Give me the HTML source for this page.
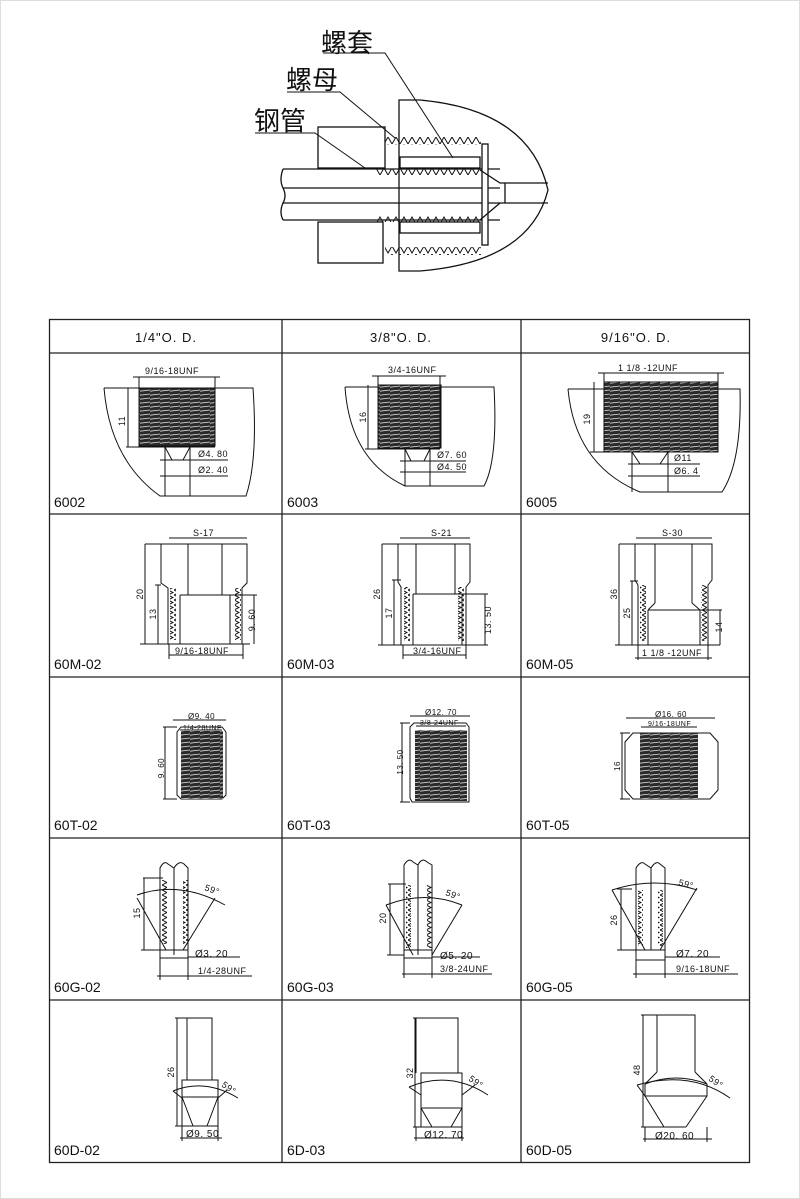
<!DOCTYPE html>
<html><head><meta charset="utf-8"><style>
html,body{margin:0;padding:0;background:#fff}
svg{display:block}
text{font-family:"Liberation Sans","Noto Sans CJK SC",sans-serif;fill:#111}
.d{font-size:9px;letter-spacing:0.5px}
.l{font-size:14px}
.h{font-size:13px;letter-spacing:1px}
</style></head><body>
<svg width="800" height="1199" viewBox="0 0 800 1199" xmlns="http://www.w3.org/2000/svg">
<defs>
<pattern id="thr" width="10" height="4" patternUnits="userSpaceOnUse">
<rect width="10" height="4" fill="#2a2a2a"/><path d="M0,3.2 L10,2" stroke="#ddd" stroke-width="0.8"/>
</pattern>
<pattern id="zzh" width="8" height="8" patternUnits="userSpaceOnUse">
<path d="M0,8 L4,1 L8,8" fill="none" stroke="#111" stroke-width="1"/>
</pattern>
<pattern id="zzv" width="6" height="5" patternUnits="userSpaceOnUse">
<path d="M0,0 L5,2.5 L0,5" fill="none" stroke="#111" stroke-width="1"/>
</pattern>
</defs>
<rect x="0.5" y="0.5" width="799" height="1198" fill="none" stroke="#ddd"/>

<!-- TOP DIAGRAM -->
<g stroke="#111" stroke-width="1.3" fill="none">
<path d="M399,271 L399,100 L420,100 Q530,110 548,190 Q530,262 420,271 Z" fill="#fff"/>
<line x1="505" y1="183" x2="548" y2="183"/><line x1="505" y1="203" x2="548" y2="203"/>
<rect x="318" y="127" width="67" height="41" fill="#fff"/>
<rect x="318" y="222" width="65" height="41" fill="#fff"/>
<path d="M283,169 L500,169 M283,220 L500,220 M283,188 L500,188 M283,203 L500,203"/>
<path d="M283,169 Q279,180 283,188 Q287,196 283,203 Q279,212 283,220"/>
<rect x="400" y="157" width="80" height="11" fill="#fff"/>
<rect x="400" y="222" width="80" height="11" fill="#fff"/>
<rect x="482" y="144" width="6" height="101" fill="#fff"/>
<path d="M480,170 L500,183 L505,183 L505,203 L500,203 L480,220"/>
</g>
<rect x="385" y="137" width="96" height="8" fill="url(#zzh)"/>
<rect x="385" y="247" width="96" height="8" fill="url(#zzh)" transform="translate(0,502) scale(1,-1)"/>
<rect x="376" y="169" width="104" height="6" fill="url(#zzh)" transform="translate(0,344) scale(1,-1)"/>
<rect x="376" y="216" width="104" height="6" fill="url(#zzh)"/>
<g stroke="#111" stroke-width="1" fill="none">
<path d="M323,53 L385,53 L453,158"/>
<path d="M287,92 L340,92 L395,138"/>
<path d="M255,133 L315,133 L365,168"/>
</g>
<text x="321" y="52" style="font-size:26px">螺套</text>
<text x="286" y="89" style="font-size:26px">螺母</text>
<text x="254" y="130" style="font-size:26px">钢管</text>

<!-- TABLE -->
<g stroke="#222" stroke-width="1.3" fill="none">
<rect x="49.5" y="319.5" width="700" height="843"/>
<line x1="49" y1="353" x2="750" y2="353"/>
<line x1="49" y1="514" x2="750" y2="514"/>
<line x1="49" y1="677" x2="750" y2="677"/>
<line x1="49" y1="838" x2="750" y2="838"/>
<line x1="49" y1="1000" x2="750" y2="1000"/>
<line x1="282" y1="319" x2="282" y2="1163"/>
<line x1="521" y1="319" x2="521" y2="1163"/>
</g>
<text class="h" x="166" y="342" text-anchor="middle">1/4"O. D.</text>
<text class="h" x="401" y="342" text-anchor="middle">3/8"O. D.</text>
<text class="h" x="636" y="342" text-anchor="middle">9/16"O. D.</text>

<!-- Row labels -->
<g class="l">
<text class="l" x="54" y="507">6002</text><text class="l" x="287" y="507">6003</text><text class="l" x="526" y="507">6005</text>
<text class="l" x="54" y="669">60M-02</text><text class="l" x="287" y="669">60M-03</text><text class="l" x="526" y="669">60M-05</text>
<text class="l" x="54" y="830">60T-02</text><text class="l" x="287" y="830">60T-03</text><text class="l" x="526" y="830">60T-05</text>
<text class="l" x="54" y="992">60G-02</text><text class="l" x="287" y="992">60G-03</text><text class="l" x="526" y="992">60G-05</text>
<text class="l" x="54" y="1155">60D-02</text><text class="l" x="287" y="1155">6D-03</text><text class="l" x="526" y="1155">60D-05</text>
</g>

<!-- ROW 1 -->
<g stroke="#111" stroke-width="1" fill="none">
<path d="M104,388 L253,388 Q258,460 246,496 L160,496 Q110,460 104,388"/>
<rect x="139" y="388" width="76" height="58" fill="url(#thr)"/>
<path d="M133,377 L220,377 M139,377 L139,446 M215,377 L215,446 M128,388 L128,447 M126,447 L215,447"/>
<path d="M165,447 L165,496 M190,447 L190,496 M165,447 L172,460 L183,460 L190,447 M160,460 L228,460 M160,476 L228,476"/>

<path d="M345,387 L494,387 Q498,460 484,486 L405,486 Q350,460 345,387"/>
<rect x="378" y="385" width="63" height="63" fill="url(#thr)"/>
<path d="M372,376 L446,376 M378,376 L378,448 M440,376 L440,448 M368,385 L368,449 M365,449 L440,449"/>
<path d="M405,449 L405,486 M430,449 L430,486 M405,449 L411,461 L424,461 L430,449 M400,461 L466,461 M400,472 L466,472"/>

<path d="M568,389 L740,389 Q742,462 722,492 L640,492 Q575,465 568,389"/>
<rect x="604" y="382" width="114" height="70" fill="url(#thr)"/>
<path d="M598,373 L724,373 M604,373 L604,452 M718,373 L718,452 M594,382 L594,452 M590,452 L718,452"/>
<path d="M632,452 L632,492 M668,452 L668,492 M632,452 L640,464 L660,464 L668,452 M628,464 L700,464 M628,476 L700,476"/>
</g>
<text class="d" x="145" y="374">9/16-18UNF</text>
<text class="d" x="125" y="421" transform="rotate(-90 125 421)" text-anchor="middle">11</text>
<text class="d" x="198" y="457">Ø4. 80</text><text class="d" x="198" y="473">Ø2. 40</text>
<text class="d" x="388" y="373">3/4-16UNF</text>
<text class="d" x="366" y="417" transform="rotate(-90 366 417)" text-anchor="middle">16</text>
<text class="d" x="437" y="458">Ø7. 60</text><text class="d" x="437" y="470">Ø4. 50</text>
<text class="d" x="618" y="371">1 1/8 -12UNF</text>
<text class="d" x="590" y="419" transform="rotate(-90 590 419)" text-anchor="middle">19</text>
<text class="d" x="674" y="461">Ø11</text><text class="d" x="674" y="474">Ø6. 4</text>

<!-- ROW 2 -->
<g stroke="#111" stroke-width="1" fill="none">
<!-- 60M-02 -->
<path d="M161,544 L247,544 L247,583 L242,588 L242,644 L168,644 L168,588 L161,583 Z"/>
<path d="M188,544 L188,595 M222,544 L222,595 M180,595 L230,595 L230,644 M180,595 L180,644"/>
<path d="M145,544 L161,544 M145,544 L145,644 M140,644 L250,644 M155,585 L161,585 M158,585 L158,644 M230,595 L257,595 M254,595 L254,644 M169,538 L247,538 M169,644 L169,659 M243,644 L243,659 M169,655 L243,655"/>
<!-- 60M-03 -->
<path d="M398,544 L470,544 L470,582 L466,587 L466,645 L401,645 L401,587 L398,582 Z"/>
<path d="M416,544 L416,594 M455,544 L455,594 M413,594 L462,594 L462,645 M413,594 L413,645"/>
<path d="M382,544 L398,544 M382,544 L382,645 M378,645 L488,645 M392,580 L401,580 M394,580 L394,645 M462,594 L488,594 M485,594 L485,645 M400,538 L470,538 M403,645 L403,659 M466,645 L466,659 M403,655 L466,655"/>
<!-- 60M-05 -->
<path d="M635,544 L712,544 L712,580 L708,585 L708,645 L638,645 L638,585 L635,580 Z"/>
<path d="M655,544 L655,603 M692,544 L692,603 M655,603 L648,610 M692,603 L700,610 M648,610 L700,610 M648,610 L648,645 M700,610 L700,645"/>
<path d="M619,544 L635,544 M619,544 L619,645 M615,645 L720,645 M630,581 L638,581 M632,581 L632,645 M700,610 L722,610 M720,610 L720,645 M636,538 L712,538 M638,645 L638,660 M708,645 L708,660 M635,658 L712,658"/>
</g>
<rect x="170" y="588" width="6" height="52" fill="url(#zzv)"/>
<rect x="235" y="588" width="6" height="52" fill="url(#zzv)"/>
<rect x="404" y="587" width="6" height="54" fill="url(#zzv)"/>
<rect x="458" y="587" width="6" height="54" fill="url(#zzv)"/>
<rect x="640" y="585" width="6" height="56" fill="url(#zzv)"/>
<rect x="701" y="585" width="6" height="56" fill="url(#zzv)"/>
<text class="d" x="193" y="536">S-17</text>
<text class="d" x="143" y="594" transform="rotate(-90 143 594)" text-anchor="middle">20</text>
<text class="d" x="156" y="614" transform="rotate(-90 156 614)" text-anchor="middle">13</text>
<text class="d" x="255" y="620" transform="rotate(-90 255 620)" text-anchor="middle">9. 60</text>
<text class="d" x="175" y="654">9/16-18UNF</text>
<text class="d" x="431" y="536">S-21</text>
<text class="d" x="380" y="594" transform="rotate(-90 380 594)" text-anchor="middle">26</text>
<text class="d" x="392" y="613" transform="rotate(-90 392 613)" text-anchor="middle">17</text>
<text class="d" x="491" y="620" transform="rotate(-90 491 620)" text-anchor="middle">13. 50</text>
<text class="d" x="413" y="654">3/4-16UNF</text>
<text class="d" x="662" y="536">S-30</text>
<text class="d" x="617" y="594" transform="rotate(-90 617 594)" text-anchor="middle">36</text>
<text class="d" x="630" y="613" transform="rotate(-90 630 613)" text-anchor="middle">25</text>
<text class="d" x="722" y="627" transform="rotate(-90 722 627)" text-anchor="middle">14</text>
<text class="d" x="642" y="656">1 1/8 -12UNF</text>

<!-- ROW 3 -->
<g stroke="#111" stroke-width="1" fill="none">
<path d="M181,727 L222,727 L226,732 L226,795 L222,799 L181,799 L177,795 L177,732 Z"/>
<path d="M173,720 L226,720 M180,730 L222,730 M163,727 L177,727 M163,799 L177,799 M165,727 L165,799"/>
<path d="M414,723 L466,723 L469,727 L469,802 L412,802 L410,798 L410,727 Z"/>
<path d="M410,716 L470,716 M416,726 L466,726 M400,723 L410,723 M400,802 L410,802 M402,723 L402,802"/>
<path d="M633,733 L710,733 L718,742 L718,790 L710,799 L633,799 L625,790 L625,742 Z"/>
<path d="M626,718 L715,718 M641,727 L697,727 M620,733 L630,733 M620,799 L630,799 M622,733 L622,799"/>
</g>
<rect x="181" y="731" width="42" height="68" fill="url(#thr)"/>
<rect x="415" y="730" width="52" height="71" fill="url(#thr)"/>
<rect x="640" y="733" width="58" height="66" fill="url(#thr)"/>
<text class="d" x="188" y="719" style="font-size:8px">Ø9. 40</text>
<text class="d" x="183" y="730" style="font-size:7px">1/4-28UNF</text>
<text class="d" x="164" y="768" transform="rotate(-90 164 768)" text-anchor="middle" style="font-size:8px">9. 60</text>
<text class="d" x="425" y="715" style="font-size:8px">Ø12. 70</text>
<text class="d" x="420" y="725" style="font-size:7px">3/8-24UNF</text>
<text class="d" x="403" y="762" transform="rotate(-90 403 762)" text-anchor="middle" style="font-size:8px">13. 50</text>
<text class="d" x="655" y="717" style="font-size:8px">Ø16. 60</text>
<text class="d" x="648" y="726" style="font-size:7px">9/16-18UNF</text>
<text class="d" x="620" y="766" transform="rotate(-90 620 766)" text-anchor="middle" style="font-size:8px">16</text>

<!-- ROW 4 -->
<g stroke="#111" stroke-width="1" fill="none">
<path d="M160,955 L160,868 Q164,860 168,864 L174,868 Q179,860 184,864 L188,868 L188,955"/>
<path d="M174,868 L174,955 M160,950 L188,950 L188,958 L160,958 Z"/>
<path d="M137,898 L166,950 M215,898 L183,950 M137,895 Q180,880 225,905"/>
<path d="M143,878 L163,878 M144,878 L144,950 M141,950 L160,950 M160,958 L160,980 M188,958 L188,980 M157,976 L252,976 M188,957 L240,957"/>
<path d="M404,955 L404,865 Q409,857 413,862 L418,865 Q422,857 427,862 L432,865 L432,955"/>
<path d="M418,865 L418,955 M404,950 L432,950 L432,958 L404,958 Z"/>
<path d="M386,905 L413,955 M462,905 L432,955 M386,905 Q425,890 462,905"/>
<path d="M388,884 L406,884 M390,884 L390,955 M387,955 L404,955 M404,958 L404,978 M432,958 L432,978 M402,974 L492,974 M432,957 L480,957"/>
<path d="M636,950 L636,868 Q641,860 645,864 L651,868 Q656,860 660,864 L665,868 L665,950"/>
<path d="M651,868 L651,950 M636,950 L665,950 L665,960 L636,960 Z"/>
<path d="M612,890 L645,950 M697,888 L660,950 M612,890 Q655,876 697,890"/>
<path d="M617,889 L632,889 M621,889 L621,950 M617,950 L636,950 M636,960 L636,978 M665,960 L665,978 M633,974 L738,974 M665,957 L720,957"/>
</g>
<rect x="162" y="880" width="5" height="64" fill="url(#zzv)"/>
<rect x="183" y="880" width="5" height="64" fill="url(#zzv)"/>
<rect x="406" y="885" width="5" height="63" fill="url(#zzv)"/>
<rect x="427" y="885" width="5" height="63" fill="url(#zzv)"/>
<rect x="638" y="890" width="5" height="56" fill="url(#zzv)"/>
<rect x="658" y="890" width="5" height="56" fill="url(#zzv)"/>
<text class="d" x="204" y="890" transform="rotate(20 204 890)">59°</text>
<text class="d" x="140" y="913" transform="rotate(-90 140 913)" text-anchor="middle">15</text>
<text class="d" x="195" y="957" style="font-size:10px">Ø3. 20</text>
<text class="d" x="198" y="974">1/4-28UNF</text>
<text class="d" x="445" y="895" transform="rotate(20 445 895)">59°</text>
<text class="d" x="386" y="918" transform="rotate(-90 386 918)" text-anchor="middle">20</text>
<text class="d" x="440" y="959" style="font-size:10px">Ø5. 20</text>
<text class="d" x="440" y="972">3/8-24UNF</text>
<text class="d" x="678" y="885" transform="rotate(15 678 885)">59°</text>
<text class="d" x="617" y="920" transform="rotate(-90 617 920)" text-anchor="middle">26</text>
<text class="d" x="676" y="957" style="font-size:10px">Ø7. 20</text>
<text class="d" x="676" y="972">9/16-18UNF</text>

<!-- ROW 5 -->
<g stroke="#111" stroke-width="1" fill="none">
<path d="M187,1018 L212,1018 L212,1080 M187,1018 L187,1080 M182,1080 L218,1080 L218,1126 L182,1126 Z"/>
<path d="M182,1097 L218,1097 M182,1097 L193,1126 M218,1097 L207,1126 M173,1091 Q205,1078 238,1098 M173,1091 L182,1098 M227,1090 L218,1098"/>
<path d="M175,1018 L187,1018 M177,1018 L177,1126 M175,1126 L182,1126 M182,1126 L182,1141 M218,1126 L218,1141 M180,1138 L222,1138"/>
<path d="M416,1018 L458,1018 L458,1073 M416,1018 L416,1073 M421,1073 L462,1073 L462,1127 L421,1127 Z"/>
<path d="M421,1108 L462,1108 M421,1108 L432,1127 M462,1108 L451,1127 M409,1087 Q450,1070 488,1095 M409,1087 L421,1095 M475,1085 L462,1095"/>
<path d="M413,1018 L416,1018 M415,1018 L415,1127 M413,1127 L421,1127 M416,1127 L416,1141 M462,1127 L462,1141 M414,1138 L464,1138"/>
<path d="M657,1015 L695,1015 L695,1072 M657,1015 L657,1072 M657,1072 L645,1084 M695,1072 L707,1084 M645,1084 Q676,1072 707,1084"/>
<path d="M645,1084 L645,1096 L707,1096 L707,1084 M645,1096 L664,1127 M707,1096 L686,1127 M664,1127 L686,1127 M637,1085 Q690,1070 730,1098 M637,1085 L645,1096"/>
<path d="M641,1015 L657,1015 M643,1015 L643,1127 M641,1127 L664,1127 M645,1127 L645,1142 M707,1127 L707,1142 M643,1139 L712,1139"/>
</g>
<text class="d" x="221" y="1086" transform="rotate(35 221 1086)">59°</text>
<text class="d" x="174" y="1072" transform="rotate(-90 174 1072)" text-anchor="middle">26</text>
<text class="d" x="186" y="1137" style="font-size:10px">Ø9. 50</text>
<text class="d" x="468" y="1080" transform="rotate(35 468 1080)">59°</text>
<text class="d" x="413" y="1073" transform="rotate(-90 413 1073)" text-anchor="middle">32</text>
<text class="d" x="424" y="1138" style="font-size:10px">Ø12. 70</text>
<text class="d" x="708" y="1080" transform="rotate(35 708 1080)">59°</text>
<text class="d" x="640" y="1070" transform="rotate(-90 640 1070)" text-anchor="middle">48</text>
<text class="d" x="655" y="1139" style="font-size:10px">Ø20. 60</text>
</svg>
</body></html>
